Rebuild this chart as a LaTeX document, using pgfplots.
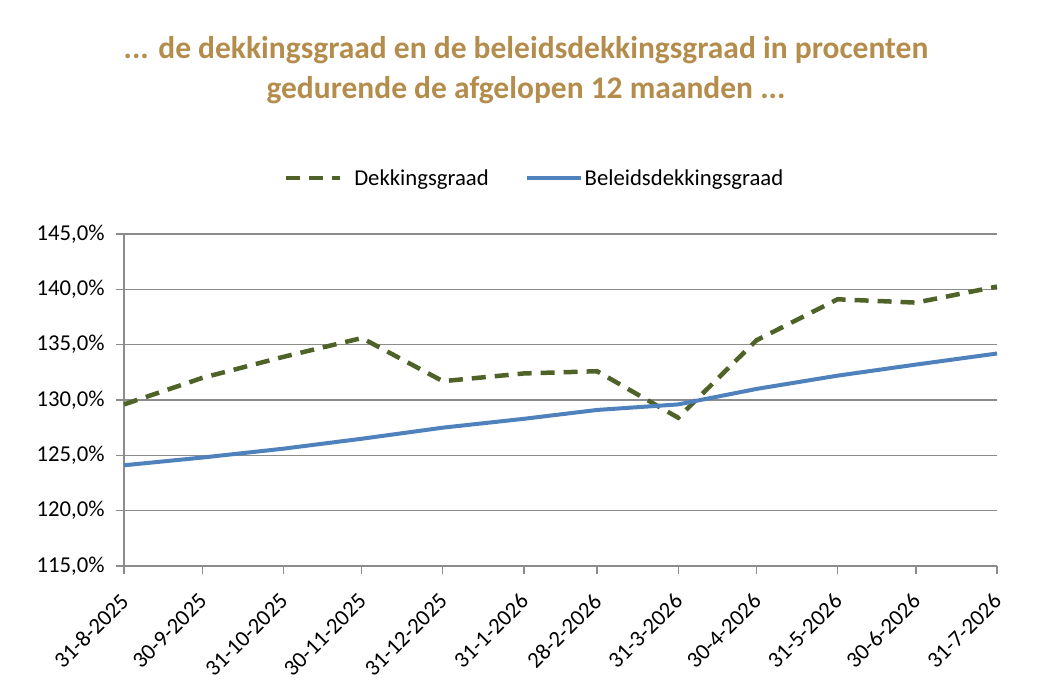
\documentclass[border=0pt]{standalone}
\usepackage{fontspec}
\setmainfont{Carlito}
\usepackage{pgfplots}
\pgfplotsset{compat=1.18}
\definecolor{titlegold}{RGB}{180,141,76}
\definecolor{olive}{RGB}{79,98,40}
\definecolor{xlblue}{RGB}{79,129,189}
\definecolor{gridgray}{RGB}{140,140,140}
\begin{document}
\begin{tikzpicture}[x=1pt,y=1pt]
\useasboundingbox (0,0) rectangle (1047,693);
\node[font=\fontsize{31.5}{36}\selectfont\bfseries, text=titlegold] at (526,643) {... de dekkingsgraad en de beleidsdekkingsgraad in procenten};
\node[font=\fontsize{31.5}{36}\selectfont\bfseries, text=titlegold] at (526,603) {gedurende de afgelopen 12 maanden ...};
\begin{axis}[
  at={(124pt,127pt)}, anchor=south west,
  scale only axis, width=873pt, height=332pt,
  xmin=0, xmax=334, ymin=115, ymax=145,
  axis x line*=bottom, axis y line*=left,
  axis line style={gridgray, line width=1.2pt},
  xtick={0,30,61,91,122,153,181,212,242,273,303,334},
  xticklabels={31-8-2025,30-9-2025,31-10-2025,30-11-2025,31-12-2025,31-1-2026,28-2-2026,31-3-2026,30-4-2026,31-5-2026,30-6-2026,31-7-2026},
  ytick={115,120,...,145},
  yticklabel={\pgfmathprintnumber[fixed,fixed zerofill,precision=1,use comma]{\tick}\%},
  /pgf/number format/assume math mode=true,
  ymajorgrids, grid style={gridgray, line width=1.2pt},
  tick align=outside, major tick length=8pt,
  tick style={gridgray, line width=1.2pt},
  ticklabel style={font=\fontsize{22.7}{26}\selectfont, text=black},
  xticklabel style={yshift=-21pt, xshift=3pt, rotate=45, anchor=east},
  yticklabel style={xshift=-8pt},
  legend style={at={(0.5,1.0)}, yshift=43pt, xshift=-26pt, anchor=south, draw=none, fill=none,
    legend columns=2, font=\fontsize{22.7}{26}\selectfont,
    /tikz/every even column/.append style={column sep=34pt}},
  legend cell align=left,
  legend image code/.code={\draw[#1] (0pt,0pt) -- (54pt,0pt);},
  clip=false,
]
\addplot[olive, line width=4.5pt, dash pattern=on 14pt off 9pt] coordinates {
(0,129.6) (30,132.0) (61,133.9) (91,135.6) (122,131.7) (153,132.4) (181,132.6) (212,128.4) (242,135.4) (273,139.1) (303,138.8) (334,140.25)};
\addlegendentry{\hspace{10pt}Dekkingsgraad}
\addplot[xlblue, line width=4pt] coordinates {
(0,124.1) (30,124.8) (61,125.6) (91,126.5) (122,127.5) (153,128.3) (181,129.1) (212,129.6) (242,131.0) (273,132.2) (303,133.2) (334,134.2)};
\addlegendentry{Beleidsdekkingsgraad}
\end{axis}
\end{tikzpicture}
\end{document}
